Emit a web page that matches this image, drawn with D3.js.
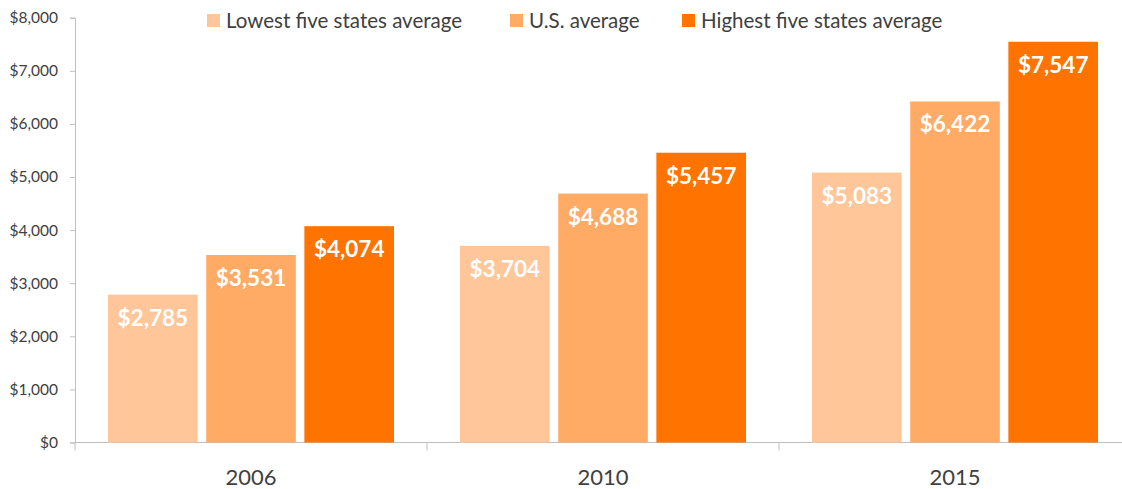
<!DOCTYPE html>
<html>
<head>
<meta charset="utf-8">
<script src="https://cdn.jsdelivr.net/npm/d3@7"></script>
<style>
  body { margin: 0; background: #fff; }
  text { font-family: Lato, "Open Sans", sans-serif; }
</style>
</head>
<body>
<div id="chart"></div>
<script>
// data
const years = ["2006", "2010", "2015"]
const seriesNames = ["Lowest five states average", "U.S. average", "Highest five states average"]
const lowest = [2785, 3704, 5083]
const usAverage = [3531, 4688, 6422]
const highest = [4074, 5457, 7547]
const yTicks = [0, 1000, 2000, 3000, 4000, 5000, 6000, 7000, 8000]

const colors = ["#ffc799", "#ffab66", "#ff7300"]
const width = 1122
const height = 489
const margin = {top: 18, right: -9, bottom: 46, left: 75}

const seriesValues = [lowest, usAverage, highest]
const data = years.map(function(y, i) {
  return {year: y, values: seriesValues.map(function(s, j) { return {key: j, value: s[i]} })}
})

const svg = d3.select("#chart").append("svg")
    .attr("width", width)
    .attr("height", height)

// schalen
const x0 = d3.scaleBand()
    .domain(years)
    .range([margin.left, width - margin.right])
    .paddingInner(0.1875)
    .paddingOuter(0.09375)

const x1 = d3.scaleBand()
    .domain([0, 1, 2])
    .range([0, x0.bandwidth()])
    .paddingInner(0.087)

const y = d3.scaleLinear()
    .domain([0, 8000])
    .range([height - margin.bottom - 0.5, margin.top - 0.3])

// y-as
const yAxis = svg.append("g")
    .attr("transform", "translate(" + margin.left + ",0)")
    .call(d3.axisLeft(y).tickValues(yTicks).tickSize(5).tickPadding(12)
      .tickFormat(function(d) { return "$" + d3.format(",")(d) }))
yAxis.select(".domain").attr("stroke", "#bfbfbf")
yAxis.selectAll(".tick line").attr("stroke", "#bfbfbf")
yAxis.selectAll(".tick text")
    .attr("fill", "#404040")
    .style("font-size", "15.5px")

// x-as
const base = y(0)
const step = x0.step()
const bounds = d3.range(years.length + 1).map(function(i) { return x0(years[0]) - step * x0.paddingOuter() + i * step })

svg.append("line")
    .attr("x1", margin.left).attr("x2", width)
    .attr("y1", base).attr("y2", base)
    .attr("stroke", "#bfbfbf")

svg.selectAll(".xtick")
    .data(bounds)
    .enter().append("line")
    .attr("class", "xtick")
    .attr("x1", function(d) { return d }).attr("x2", function(d) { return d })
    .attr("y1", base).attr("y2", base + 8)
    .attr("stroke", "#bfbfbf")

svg.selectAll(".xlabel")
    .data(years)
    .enter().append("text")
    .attr("class", "xlabel")
    .attr("x", function(d) { return x0(d) + x0.bandwidth() / 2 })
    .attr("y", 485)
    .attr("text-anchor", "middle")
    .attr("fill", "#404040")
    .style("font-size", "22px")
    .text(function(d) { return d })

// bars
const groups = svg.selectAll(".group")
    .data(data)
    .enter().append("g")
    .attr("class", "group")
    .attr("transform", function(d) { return "translate(" + x0(d.year) + ",0)" })

groups.selectAll("rect")
    .data(function(d) { return d.values })
    .enter().append("rect")
    .attr("x", function(d) { return x1(d.key) })
    .attr("y", function(d) { return y(d.value) })
    .attr("width", x1.bandwidth())
    .attr("height", function(d) { return base - y(d.value) })
    .attr("fill", function(d) { return colors[d.key] })

groups.selectAll(".val")
    .data(function(d) { return d.values })
    .enter().append("text")
    .attr("class", "val")
    .attr("x", function(d) { return x1(d.key) + x1.bandwidth() / 2 })
    .attr("y", function(d) { return y(d.value) + 31 })
    .attr("text-anchor", "middle")
    .attr("fill", "#fff")
    .style("font-size", "22.5px")
    .style("font-weight", "bold")
    .text(function(d) { return "$" + d3.format(",")(d.value) })

// legenda
const legendX = [207, 510, 682]
const legend = svg.selectAll(".legend")
    .data(seriesNames)
    .enter().append("g")
    .attr("class", "legend")
    .attr("transform", function(d, i) { return "translate(" + legendX[i] + ",14)" })

legend.append("rect")
    .attr("width", 13).attr("height", 13)
    .attr("fill", function(d, i) { return colors[i] })

legend.append("text")
    .attr("x", 19)
    .attr("y", 14)
    .attr("fill", "#404040")
    .style("font-size", "20.5px")
    .text(function(d) { return d })
</script>
</body>
</html>
